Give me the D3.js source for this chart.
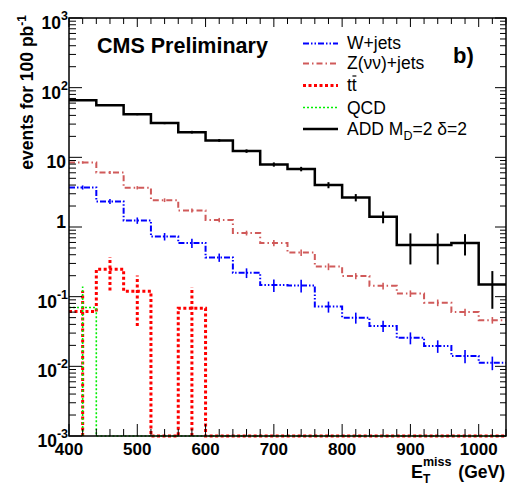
<!DOCTYPE html>
<html>
<head>
<meta charset="utf-8">
<script src="https://cdn.jsdelivr.net/npm/d3@7"></script>
<style>
  body { margin: 0; background: #fff; }
  svg { display: block; font-family: "Liberation Sans", Arial, Helvetica, sans-serif; }
</style>
</head>
<body>
<div id="chart"></div>
<script>
// bin edges in GeV (40 GeV bins)
const binEdges = [400, 440, 480, 520, 560, 600, 640, 680, 720, 760, 800, 840, 880, 920, 960, 1000, 1040];

// events per bin
const wjets    = [3.70, 2.33, 1.24, 0.73, 0.59, 0.366, 0.22, 0.147, 0.145, 0.072, 0.050, 0.038, 0.0257, 0.0196, 0.0141, 0.0113];
const wjetsErr = [0.25, 0.20, 0.13, 0.09, 0.09, 0.05, 0.035, 0.03, 0.03, 0.013, 0.009, 0.007, 0.005, 0.004, 0.003, 0.0025];
const znn      = [8.45, 6.07, 3.66, 2.43, 1.73, 1.26, 0.82, 0.59, 0.43, 0.27, 0.198, 0.143, 0.111, 0.082, 0.060, 0.046];
const znnErr   = [0.35, 0.30, 0.20, 0.15, 0.12, 0.09, 0.065, 0.06, 0.045, 0.03, 0.02, 0.016, 0.012, 0.009, 0.007, 0.005];
const ttbar    = [0.061, 0.247, 0.12, 0, 0.068, 0, 0, 0, 0, 0, 0, 0, 0, 0, 0, 0];
const ttbarErr = [0.061, 0.124, 0.082, 0, 0.068, 0, 0, 0, 0, 0, 0, 0, 0, 0, 0, 0];
const qcd      = [0.07, 0, 0, 0, 0, 0, 0, 0, 0, 0, 0, 0, 0, 0, 0, 0];
const qcdErr   = [0.07, 0, 0, 0, 0, 0, 0, 0, 0, 0, 0, 0, 0, 0, 0, 0];
const add      = [66, 56, 41.5, 31, 23, 17.5, 12.3, 7.9, 6.8, 4.0, 2.65, 1.4, 0.55, 0.55, 0.59, 0.15];
const addErr   = [1.6, 1.5, 1.3, 1.1, 1.0, 0.8, 0.7, 0.55, 0.5, 0.4, 0.32, 0.27, 0.26, 0.26, 0.2, 0.083];

const yTickLabels = [
	{v: 1e3, base: '10', exp: '3'},
	{v: 1e2, base: '10', exp: '2'},
	{v: 10, base: '10', exp: ''},
	{v: 1, base: '1', exp: ''},
	{v: 1e-1, base: '10', exp: '-1'},
	{v: 1e-2, base: '10', exp: '-2'},
	{v: 1e-3, base: '10', exp: '-3'}
];
const xTickLabels = [400, 500, 600, 700, 800, 900, 1000];

const series = [
	{name: 'W+jets', vals: wjets, errs: wjetsErr, color: '#0000ff', width: 2, dash: '6,2,1.5,2,1.5,2', errDash: null},
	{name: 'Z(νν)+jets', vals: znn, errs: znnErr, color: '#d05a5a', width: 2, dash: '6,3,1.5,3', errDash: null},
	{name: 'tt', vals: ttbar, errs: ttbarErr, color: '#ff0000', width: 3, dash: '3,2.5', errDash: '3,2.5'},
	{name: 'QCD', vals: qcd, errs: qcdErr, color: '#00ee00', width: 1.6, dash: '2,2', errDash: '2,2'},
	{name: 'ADD', vals: add, errs: addErr, color: '#000000', width: 2.5, dash: null, errDash: null}
];

// ----------------------------------
// SET UP
// ----------------------------------

const width = 509, height = 484;
const margin = {top: 18, right: 3, bottom: 48, left: 69};
const floor = 1e-3;

const svg = d3.select('#chart')
	.append('svg')
	.attr('width', width)
	.attr('height', height);

const x = d3.scaleLinear()
	.domain([400, 1040])
	.range([margin.left, width - margin.right]);

const y = d3.scaleLog()
	.domain([1e-3, 1e3])
	.range([height - margin.bottom, margin.top]);

svg.append('clipPath')
	.attr('id', 'plotclip')
	.append('rect')
		.attr('x', margin.left - 2)
		.attr('y', margin.top)
		.attr('width', width - margin.left - margin.right + 4)
		.attr('height', height - margin.top - margin.bottom + 2);

// ----------------------------------
// HISTOGRAMS
// ----------------------------------

const clip = v => v > floor ? v : floor;

const stepLine = d3.line()
	.x(d => x(d[0]))
	.y(d => y(clip(d[1])))
	.curve(d3.curveStepAfter);

const plot = svg.append('g')
	.attr('clip-path', 'url(#plotclip)');

series.forEach(s => {
	const pts = s.vals.map((v, i) => [binEdges[i], v]);
	pts.push([binEdges[binEdges.length - 1], s.vals[s.vals.length - 1]]);

	plot.append('path')
		.datum(pts)
		.attr('d', stepLine)
		.style('fill', 'none')
		.style('stroke', s.color)
		.style('stroke-width', s.width)
		.style('stroke-dasharray', s.dash);

	// error bars at bin centres
	plot.selectAll(null)
		.data(s.vals.map((v, i) => ({v: v, e: s.errs[i], c: (binEdges[i] + binEdges[i + 1]) / 2})).filter(d => d.v > 0))
		.enter()
		.append('line')
			.attr('x1', d => x(d.c))
			.attr('x2', d => x(d.c))
			.attr('y1', d => y(clip(d.v - d.e)))
			.attr('y2', d => y(d.v + d.e))
			.style('stroke', s.color)
			.style('stroke-width', s.name === 'ADD' ? 2 : (s.errDash ? s.width : 1.6))
			.style('stroke-dasharray', s.errDash);
});

// ----------------------------------
// FRAME AND TICKS
// ----------------------------------

const x0 = margin.left, x1 = width - margin.right,
	y0 = margin.top, y1 = height - margin.bottom;

svg.append('rect')
	.attr('x', x0)
	.attr('y', y0)
	.attr('width', x1 - x0)
	.attr('height', y1 - y0)
	.style('fill', 'none')
	.style('stroke', '#000')
	.style('stroke-width', 1.5);

const ticks = svg.append('g').style('stroke', '#000').style('stroke-width', 1);

y.ticks().forEach(t => {
	const major = Math.abs(Math.log10(t) - Math.round(Math.log10(t))) < 1e-9;
	const len = major ? 13 : 7;
	ticks.append('line')
		.attr('x1', x0).attr('x2', x0 + len)
		.attr('y1', y(t)).attr('y2', y(t));
	ticks.append('line')
		.attr('x1', x1).attr('x2', x1 - (major ? 11 : 6))
		.attr('y1', y(t)).attr('y2', y(t));
});

x.ticks(32).forEach(t => {
	const major = t % 100 === 0;
	const len = major ? 12 : 7;
	ticks.append('line')
		.attr('x1', x(t)).attr('x2', x(t))
		.attr('y1', y1).attr('y2', y1 - len);
	ticks.append('line')
		.attr('x1', x(t)).attr('x2', x(t))
		.attr('y1', y0).attr('y2', y0 + (major ? 9 : 6));
});

// ----------------------------------
// TICK LABELS
// ----------------------------------

const yLab = svg.append('g')
	.style('font-weight', 'bold')
	.style('font-size', '17.5px');

yTickLabels.forEach(d => {
	const t = yLab.append('text')
		.attr('x', d.exp ? 68 : 66)
		.attr('y', y(d.v) + (d.v === 1 ? 1 : 11))
		.attr('text-anchor', 'end');
	t.append('tspan').text(d.base);
	if (d.exp){
		t.append('tspan')
			.attr('dy', -9)
			.style('font-size', '12.5px')
			.text(d.exp);
	}
});

svg.append('g')
	.style('font-weight', 'bold')
	.style('font-size', '17px')
	.selectAll('text')
	.data(xTickLabels)
	.enter()
	.append('text')
		.attr('x', d => x(d))
		.attr('y', 455)
		.attr('text-anchor', 'middle')
		.text(d => d);

// ----------------------------------
// AXIS TITLES
// ----------------------------------

const yTitle = svg.append('text')
	.attr('transform', 'translate(33,15) rotate(-90)')
	.attr('text-anchor', 'end')
	.style('font-weight', 'bold')
	.style('font-size', '17.5px');
yTitle.append('tspan').text('events for 100 pb');
yTitle.append('tspan').attr('dy', -7).style('font-size', '12px').text('-1');

const xTitle = svg.append('g').style('font-weight', 'bold');
xTitle.append('text').attr('x', 411).attr('y', 478).style('font-size', '18px').text('E');
xTitle.append('text').attr('x', 423).attr('y', 482.5).style('font-size', '12px').text('T');
xTitle.append('text').attr('x', 423).attr('y', 466).style('font-size', '12.5px').text('miss');
xTitle.append('text').attr('x', 505).attr('y', 478).attr('text-anchor', 'end').style('font-size', '17.5px').text('(GeV)');

// ----------------------------------
// LABELS AND LEGEND
// ----------------------------------

svg.append('text')
	.attr('x', 97)
	.attr('y', 53)
	.style('font-weight', 'bold')
	.style('font-size', '21.5px')
	.text('CMS Preliminary');

svg.append('text')
	.attr('x', 453)
	.attr('y', 63)
	.style('font-weight', 'bold')
	.style('font-size', '22px')
	.text('b)');

const legendRows = [
	{line: 43.5, base: 49},
	{line: 63.5, base: 69},
	{line: 85.5, base: 91},
	{line: 107.5, base: 114},
	{line: 129, base: 135}
];

const legend = svg.append('g').style('font-size', '17.5px');

series.forEach((s, i) => {
	const row = legendRows[i];
	legend.append('line')
		.attr('x1', 303).attr('x2', 338)
		.attr('y1', row.line).attr('y2', row.line)
		.style('stroke', s.color)
		.style('stroke-width', s.width)
		.style('stroke-dasharray', s.dash);

	const t = legend.append('text')
		.attr('x', 347)
		.attr('y', row.base);
	if (s.name === 'ADD'){
		t.append('tspan').text('ADD M');
		t.append('tspan').attr('dy', 5).style('font-size', '12.5px').text('D');
		t.append('tspan').attr('dy', -5).text('=2 δ=2');
	} else {
		t.text(s.name);
	}
	if (s.name === 'tt'){
		// bar over the second t
		const bb = t.node().getBBox();
		legend.append('line')
			.attr('x1', bb.x + bb.width / 2 + 0.5).attr('x2', bb.x + bb.width - 0.5)
			.attr('y1', row.base - 15).attr('y2', row.base - 15)
			.style('stroke', '#000')
			.style('stroke-width', 1.2);
	}
});
</script>
</body>
</html>
